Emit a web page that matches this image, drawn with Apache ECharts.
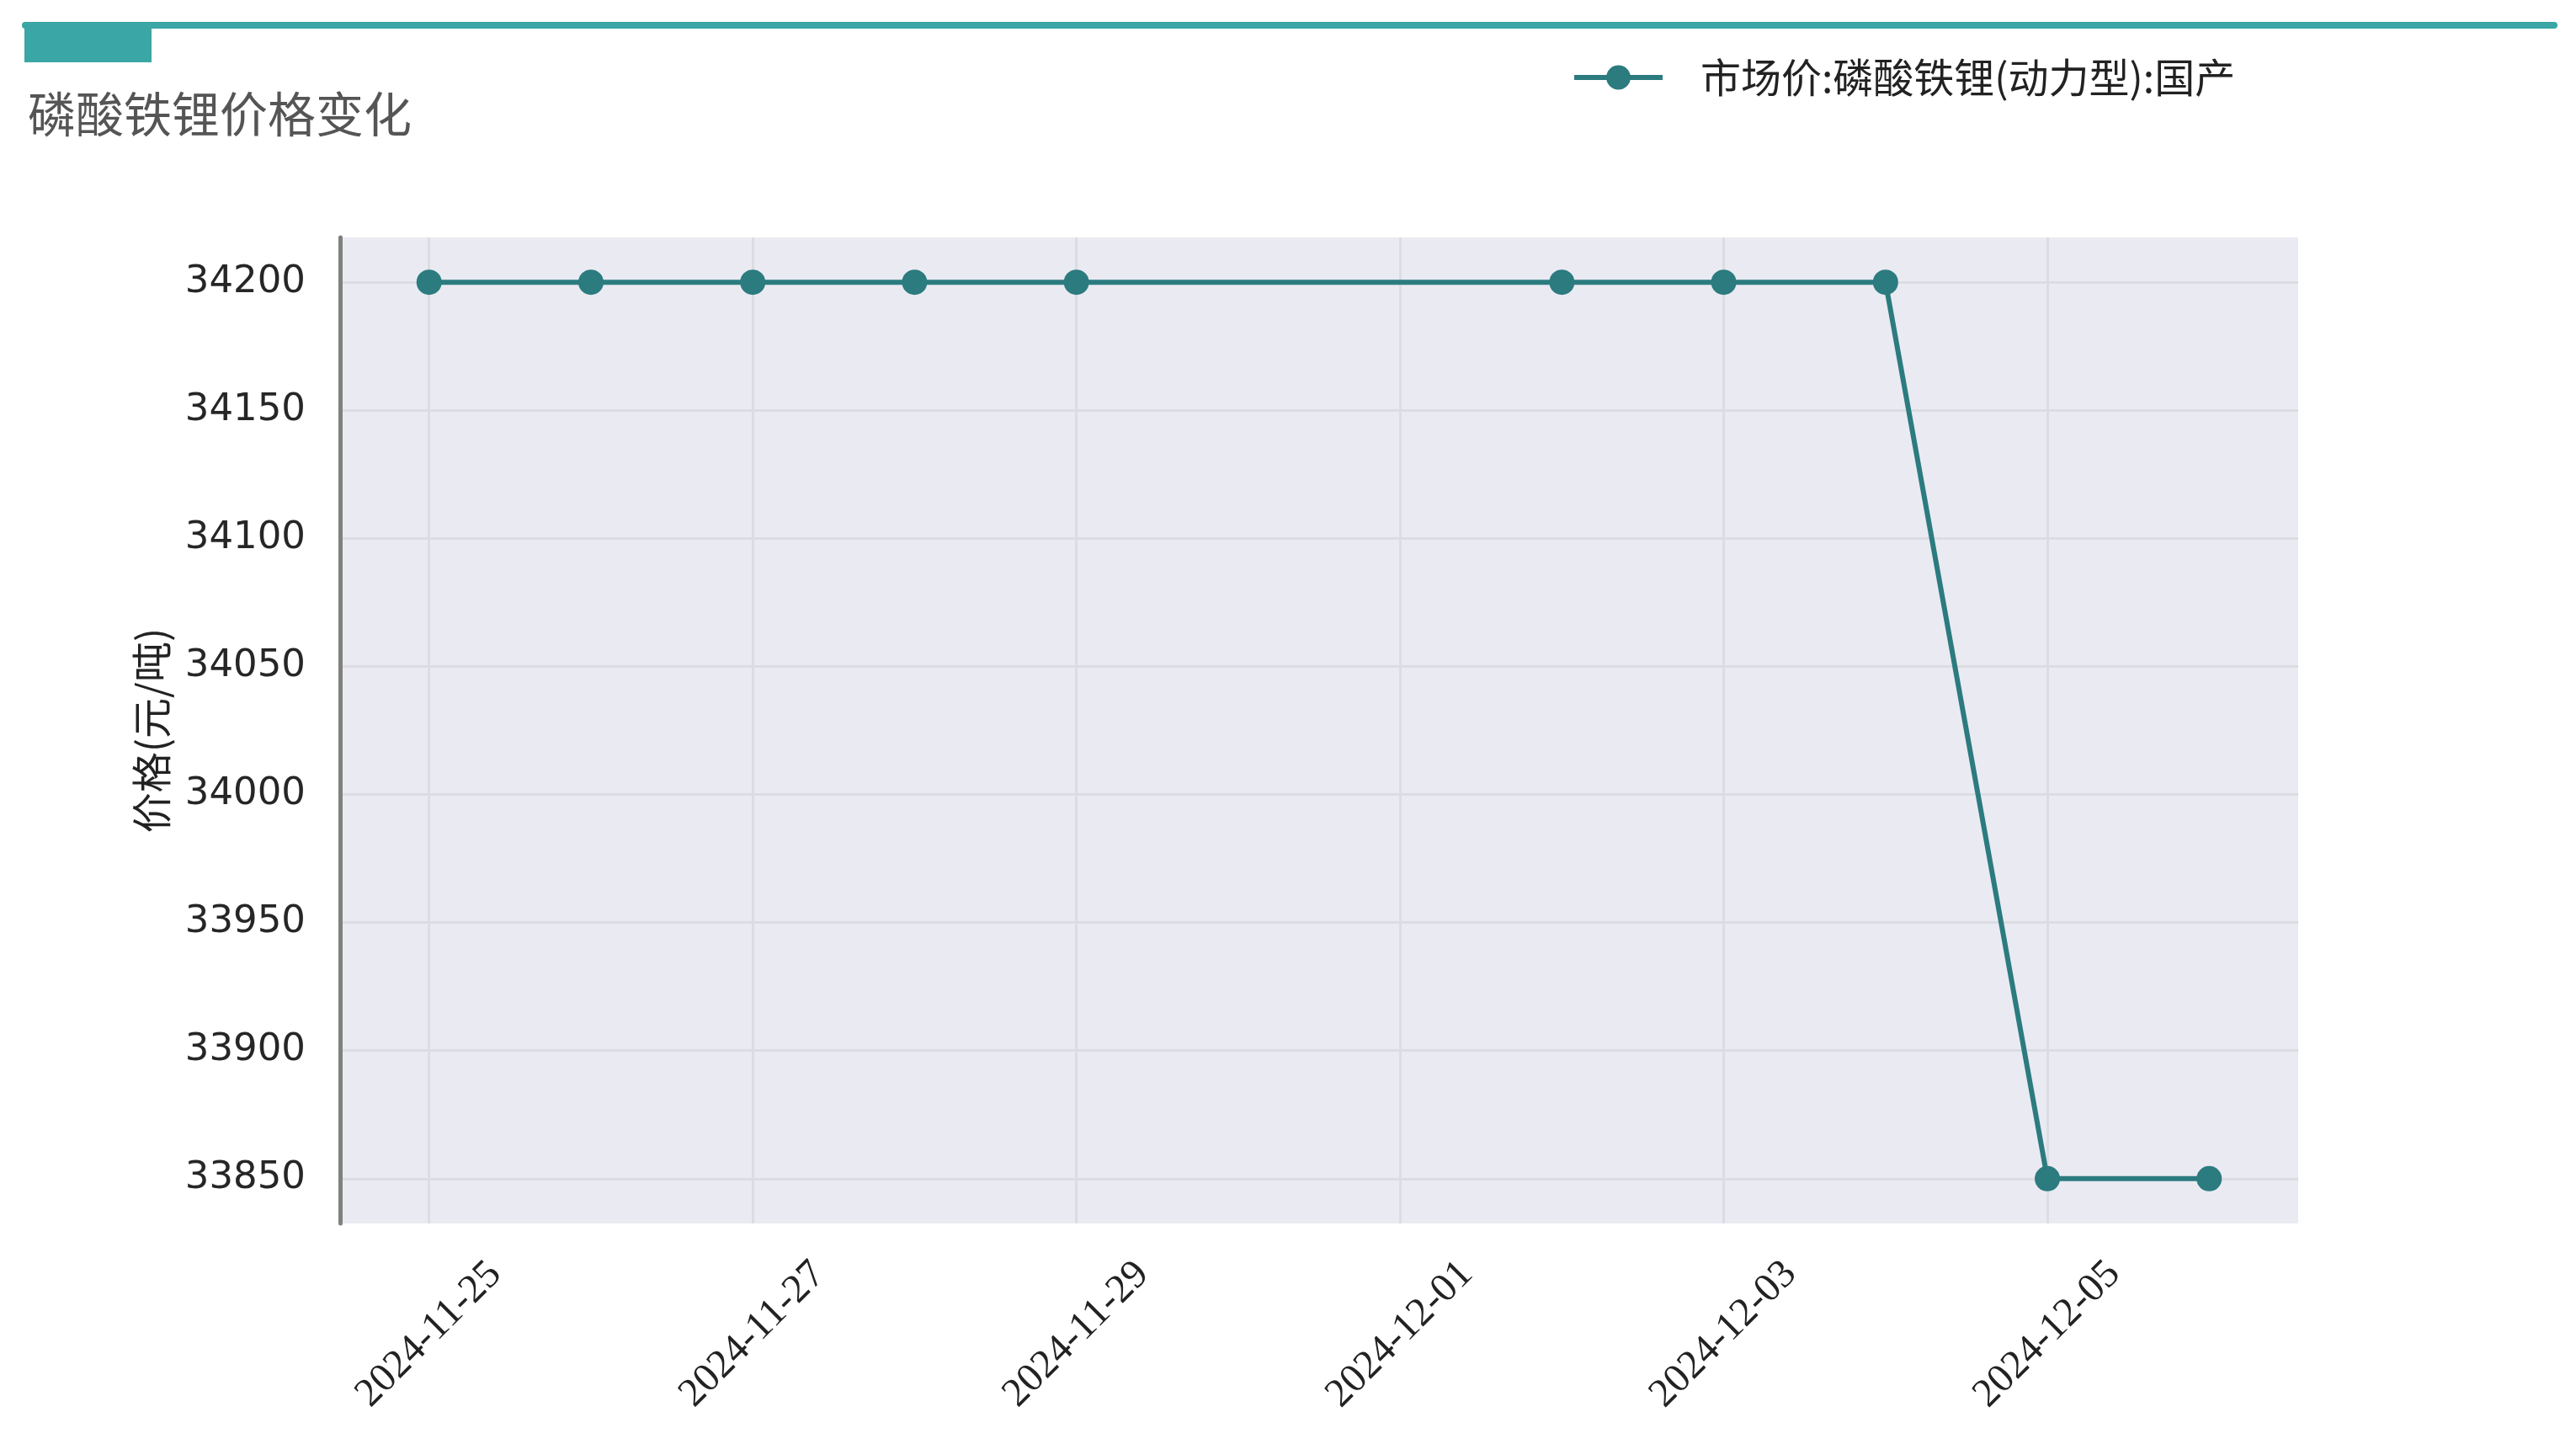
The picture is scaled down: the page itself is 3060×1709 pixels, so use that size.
<!DOCTYPE html>
<html>
<head>
<meta charset="utf-8">
<script src="https://cdn.jsdelivr.net/npm/echarts@6/dist/echarts.min.js"></script>
<style>
html,body{margin:0;padding:0;background:#fff;}
#chart{width:3060px;height:1709px;}
</style>
</head>
<body>
<div id="chart"></div>
<script>
const titleText = '磷酸铁锂价格变化';
const seriesName = '市场价:磷酸铁锂(动力型):国产';
const yAxisName = '价格(元/吨)';
const dates = ['2024-11-25','2024-11-26','2024-11-27','2024-11-28','2024-11-29','2024-12-02','2024-12-03','2024-12-04','2024-12-05','2024-12-06'];
const prices = [34200,34200,34200,34200,34200,34200,34200,34200,33850,33850];
const xTickDates = ['2024-11-25','2024-11-27','2024-11-29','2024-12-01','2024-12-03','2024-12-05'];
const yTicks = [33850,33900,33950,34000,34050,34100,34150,34200];

function ts(s){ const p=s.split('-').map(Number); return Date.UTC(p[0],p[1]-1,p[2]); }
function fmt(v){ const d=new Date(v); const m=d.getUTCMonth()+1, dd=d.getUTCDate(); return d.getUTCFullYear()+'-'+(m<10?'0':'')+m+'-'+(dd<10?'0':'')+dd; }
const xFirst = ts(dates[0]), xLast = ts(dates[dates.length-1]);
const xPad = (xLast - xFirst) * 0.05;
const yMinV = Math.min.apply(null, prices), yMaxV = Math.max.apply(null, prices);
const yPad = (yMaxV - yMinV) * 0.05;

const chart = echarts.init(document.getElementById('chart'));
chart.setOption({
  backgroundColor: '#ffffff',
  animation: false,
  graphic: [
    { type: 'line', shape: { x1: 30, y1: 30, x2: 3034, y2: 30 }, style: { stroke: '#3AA6A6', lineWidth: 8, lineCap: 'round' } },
    { type: 'rect', shape: { x: 29, y: 29, width: 151, height: 45 }, style: { fill: '#3AA6A6' } }
  ],
  title: {
    text: titleText, left: 33, top: 107, padding: 0,
    textStyle: { fontFamily: 'Noto Sans CJK SC', fontSize: 57, fontWeight: 'normal', color: '#555555' }
  },
  legend: {
    left: 1867, top: 68, padding: 0,
    itemWidth: 105, itemHeight: 36,
    lineStyle: { width: 6 },
    textStyle: { fontFamily: 'Noto Sans CJK SC', fontSize: 48, color: '#222222', padding: [0,0,0,40] },
    data: [seriesName]
  },
  grid: { left: 404, right: 330, top: 282, bottom: 256, show: true, backgroundColor: '#EAEAF2', borderWidth: 0 },
  xAxis: {
    type: 'value',
    min: xFirst - xPad, max: xLast + xPad,
    axisLine: { show: false },
    axisTick: { show: false, customValues: xTickDates.map(ts) },
    axisLabel: {
      customValues: xTickDates.map(ts),
      formatter: function(v){ return fmt(v); },
      rotate: 45, align: 'center', verticalAlign: 'middle', margin: 132,
      fontFamily: 'Liberation Serif', fontSize: 48, color: '#222222'
    },
    splitLine: { show: true, lineStyle: { color: '#DCDDE2', width: 3 } }
  },
  yAxis: {
    type: 'value',
    min: yMinV - yPad, max: yMaxV + yPad,
    name: yAxisName, nameLocation: 'middle', nameGap: 200,
    nameTextStyle: { fontFamily: 'Noto Sans CJK SC', fontSize: 48, color: '#222222' },
    axisLine: { show: true, lineStyle: { color: '#808080', width: 5 } },
    axisTick: { show: false, customValues: yTicks },
    axisLabel: { customValues: yTicks, formatter: function(v){ return String(v); }, margin: 41, padding: [8,0,0,0], fontFamily: 'DejaVu Sans', fontSize: 45, color: '#262626' },
    splitLine: { show: true, lineStyle: { color: '#DCDDE2', width: 3 } }
  },
  series: [{
    name: seriesName, type: 'line',
    data: dates.map(function(d,i){ return [ts(d), prices[i]]; }),
    symbol: 'circle', symbolSize: 30, showSymbol: true,
    itemStyle: { color: '#2B7B7F' },
    lineStyle: { color: '#2B7B7F', width: 6 }
  }]
});
</script>
</body>
</html>
